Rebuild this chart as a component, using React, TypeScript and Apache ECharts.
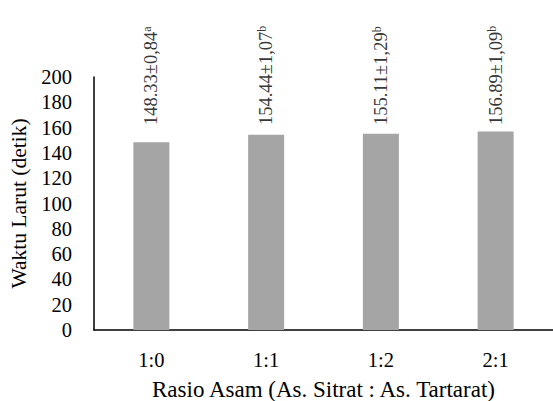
import React, { useEffect, useRef } from "react";
import * as echarts from "echarts";

// Dissolution time per acid ratio
const categories = ["1:0", "1:1", "1:2", "2:1"];
const means = [148.33, 154.44, 155.11, 156.89];
const errors = ["0,84", "1,07", "1,29", "1,09"];
const letters = ["a", "b", "b", "b"];
const yTicks = { min: 0, max: 200, interval: 20 };
// value at which the rotated value labels start
const labelBase = 162;

const FONT = "Liberation Serif";

export default function App() {
  const ref = useRef<HTMLDivElement>(null);

  useEffect(() => {
    if (!ref.current) return;
    const chart = echarts.init(ref.current, null, { renderer: "svg" });
    chart.setOption({
      animation: false,
      textStyle: { fontFamily: FONT, color: "#000" },
      grid: {
        left: 94,
        right: 0,
        top: 77,
        bottom: 71,
        containLabel: false,
        outerBoundsMode: "none",
      },
      xAxis: {
        type: "category",
        data: categories,
        axisLine: { show: true, lineStyle: { color: "#000", width: 1.5 } },
        axisTick: { show: false },
        axisLabel: { color: "#000", fontSize: 20.5, fontFamily: FONT, margin: 19 },
        name: "Rasio Asam (As. Sitrat : As. Tartarat)",
        nameLocation: "middle",
        nameGap: 48,
        nameTextStyle: { color: "#000", fontSize: 23, fontFamily: FONT },
      },
      yAxis: {
        type: "value",
        min: yTicks.min,
        max: yTicks.max,
        interval: yTicks.interval,
        axisLine: { show: true, lineStyle: { color: "#000", width: 1.5 } },
        axisTick: { show: false },
        splitLine: { show: false },
        axisLabel: { color: "#000", fontSize: 20.5, fontFamily: FONT, margin: 22 },
        name: "Waktu Larut (detik)",
        nameLocation: "middle",
        nameGap: 60,
        nameTextStyle: { color: "#000", fontSize: 21.5, fontFamily: FONT },
      },
      series: [
        {
          type: "bar",
          data: means,
          barWidth: 36,
          itemStyle: { color: "#a5a5a5" },
        },
        {
          type: "scatter",
          data: categories.map(() => labelBase),
          symbolSize: 0,
          silent: true,
          label: {
            show: true,
            position: "top",
            distance: 0,
            rotate: 90,
            align: "left",
            verticalAlign: "middle",
            formatter: (p: any) =>
              `{v|${means[p.dataIndex].toFixed(2)}±${errors[p.dataIndex]}}{s|${letters[p.dataIndex]}}`,
            rich: {
              v: { fontSize: 18.5, fontFamily: FONT, color: "#000", lineHeight: 20 },
              s: { fontSize: 12, fontFamily: FONT, color: "#000", verticalAlign: "top", lineHeight: 12 },
            },
          },
        },
      ],
    });
    return () => chart.dispose();
  }, []);

  return (
    <div
      ref={ref}
      style={{ position: "absolute", left: 0, top: 0, width: 553, height: 401 }}
    />
  );
}
